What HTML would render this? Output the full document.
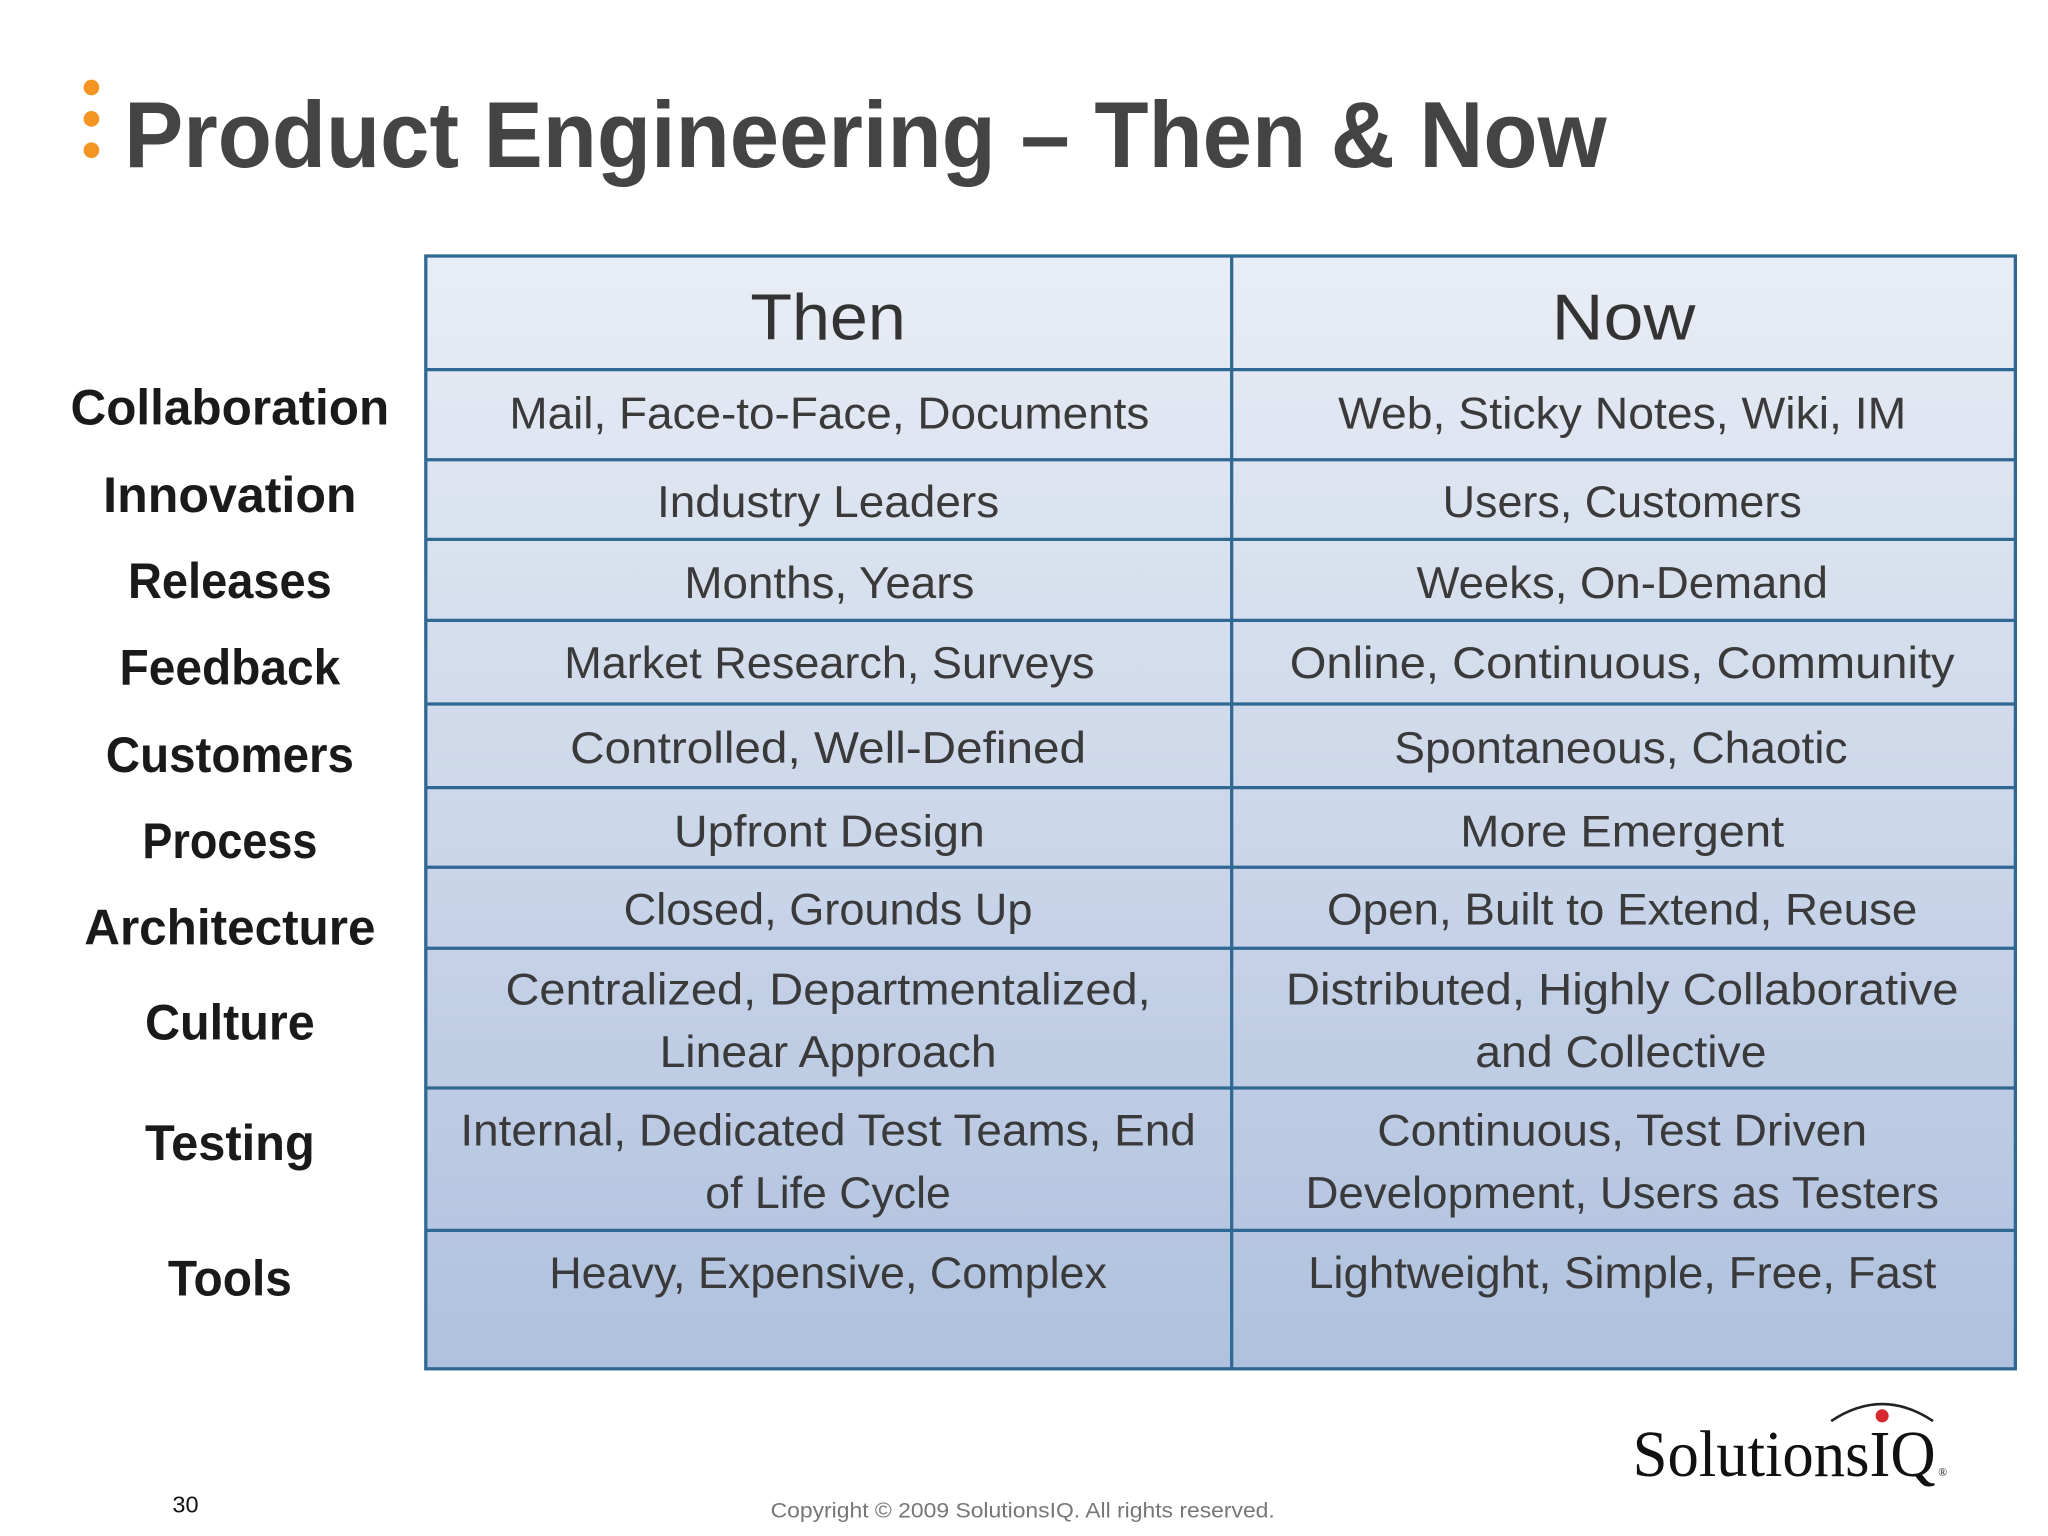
<!DOCTYPE html>
<html><head><meta charset="utf-8"><style>
html,body{margin:0;padding:0;background:#fff;}
svg{display:block;}
text{font-family:"Liberation Sans",sans-serif;}
text.serif{font-family:"Liberation Serif",serif;}
</style></head><body>
<svg width="2048" height="1536" viewBox="0 0 1568 1176" xmlns="http://www.w3.org/2000/svg">
<defs>
<linearGradient id="g" x1="0" y1="0" x2="0" y2="1">
<stop offset="0" stop-color="#e9edf5"/><stop offset="1" stop-color="#afc1de"/>
</linearGradient>
</defs>
<rect width="1568" height="1176" fill="#fff"/>
<g fill="#f39423">
<circle cx="70" cy="67" r="6"/><circle cx="70" cy="91" r="6"/><circle cx="70" cy="115" r="6"/>
</g>
<text x="95" y="128" font-size="72" font-weight="bold" fill="#444" textLength="1135" lengthAdjust="spacingAndGlyphs">Product Engineering – Then &amp; Now</text>

<g>
<rect x="326" y="196" width="1217" height="852" fill="url(#g)" stroke="#2f6893" stroke-width="2.5"/>
<g stroke="#2f6893" stroke-width="2.5">
<line x1="943" y1="196" x2="943" y2="1048"/>
<line x1="326" y1="283" x2="1543" y2="283"/>
<line x1="326" y1="352" x2="1543" y2="352"/>
<line x1="326" y1="413" x2="1543" y2="413"/>
<line x1="326" y1="475" x2="1543" y2="475"/>
<line x1="326" y1="539" x2="1543" y2="539"/>
<line x1="326" y1="603" x2="1543" y2="603"/>
<line x1="326" y1="664" x2="1543" y2="664"/>
<line x1="326" y1="726" x2="1543" y2="726"/>
<line x1="326" y1="833" x2="1543" y2="833"/>
<line x1="326" y1="942" x2="1543" y2="942"/>
</g>
<g font-size="50" fill="#333" text-anchor="middle">
<text x="634" y="260" textLength="119" lengthAdjust="spacingAndGlyphs">Then</text>
<text x="1243" y="260" textLength="110" lengthAdjust="spacingAndGlyphs">Now</text>
</g>
<g font-size="34" fill="#3a3a3a" text-anchor="middle">
<text x="635" y="328" textLength="490" lengthAdjust="spacingAndGlyphs">Mail, Face-to-Face, Documents</text>
<text x="1242" y="328" textLength="435" lengthAdjust="spacingAndGlyphs">Web, Sticky Notes, Wiki, IM</text>
<text x="634" y="396" textLength="262" lengthAdjust="spacingAndGlyphs">Industry Leaders</text>
<text x="1242" y="396" textLength="275" lengthAdjust="spacingAndGlyphs">Users, Customers</text>
<text x="635" y="458" textLength="222" lengthAdjust="spacingAndGlyphs">Months, Years</text>
<text x="1242" y="458" textLength="315" lengthAdjust="spacingAndGlyphs">Weeks, On-Demand</text>
<text x="635" y="519" textLength="406" lengthAdjust="spacingAndGlyphs">Market Research, Surveys</text>
<text x="1242" y="519" textLength="509" lengthAdjust="spacingAndGlyphs">Online, Continuous, Community</text>
<text x="634" y="584" textLength="395" lengthAdjust="spacingAndGlyphs">Controlled, Well-Defined</text>
<text x="1241" y="584" textLength="347" lengthAdjust="spacingAndGlyphs">Spontaneous, Chaotic</text>
<text x="635" y="648" textLength="238" lengthAdjust="spacingAndGlyphs">Upfront Design</text>
<text x="1242" y="648" textLength="248" lengthAdjust="spacingAndGlyphs">More Emergent</text>
<text x="634" y="708" textLength="313" lengthAdjust="spacingAndGlyphs">Closed, Grounds Up</text>
<text x="1242" y="708" textLength="452" lengthAdjust="spacingAndGlyphs">Open, Built to Extend, Reuse</text>
<text x="634" y="769" textLength="494" lengthAdjust="spacingAndGlyphs">Centralized, Departmentalized,</text>
<text x="634" y="817" textLength="258" lengthAdjust="spacingAndGlyphs">Linear Approach</text>
<text x="1242" y="769" textLength="515" lengthAdjust="spacingAndGlyphs">Distributed, Highly Collaborative</text>
<text x="1241" y="817" textLength="223" lengthAdjust="spacingAndGlyphs">and Collective</text>
<text x="634" y="877" textLength="563" lengthAdjust="spacingAndGlyphs">Internal, Dedicated Test Teams, End</text>
<text x="634" y="925" textLength="188" lengthAdjust="spacingAndGlyphs">of Life Cycle</text>
<text x="1242" y="877" textLength="375" lengthAdjust="spacingAndGlyphs">Continuous, Test Driven</text>
<text x="1242" y="925" textLength="485" lengthAdjust="spacingAndGlyphs">Development, Users as Testers</text>
<text x="634" y="986" textLength="427" lengthAdjust="spacingAndGlyphs">Heavy, Expensive, Complex</text>
<text x="1242" y="986" textLength="481" lengthAdjust="spacingAndGlyphs">Lightweight, Simple, Free, Fast</text>
</g>
</g>

<g font-size="38" font-weight="bold" fill="#1a1a1a" text-anchor="middle">
<text x="176" y="325" textLength="244" lengthAdjust="spacingAndGlyphs">Collaboration</text>
<text x="176" y="392" textLength="194" lengthAdjust="spacingAndGlyphs">Innovation</text>
<text x="176" y="458" textLength="156" lengthAdjust="spacingAndGlyphs">Releases</text>
<text x="176" y="524" textLength="169" lengthAdjust="spacingAndGlyphs">Feedback</text>
<text x="176" y="591" textLength="190" lengthAdjust="spacingAndGlyphs">Customers</text>
<text x="176" y="657" textLength="134" lengthAdjust="spacingAndGlyphs">Process</text>
<text x="176" y="723" textLength="223" lengthAdjust="spacingAndGlyphs">Architecture</text>
<text x="176" y="796" textLength="130" lengthAdjust="spacingAndGlyphs">Culture</text>
<text x="176" y="888" textLength="130" lengthAdjust="spacingAndGlyphs">Testing</text>
<text x="176" y="992" textLength="95" lengthAdjust="spacingAndGlyphs">Tools</text>
</g>

<g>
<path d="M1402 1088 Q1441 1062 1480 1088" fill="none" stroke="#222" stroke-width="2"/>
<circle cx="1441" cy="1084" r="5" fill="#d7282f"/>
<text class="serif" x="1250" y="1130" font-size="50" fill="#111" textLength="232" lengthAdjust="spacingAndGlyphs">SolutionsIQ</text>
<text class="serif" x="1484" y="1130" font-size="9" fill="#111">®</text>
</g>
<text x="132" y="1158" font-size="18" fill="#111">30</text>
<text x="783" y="1162" font-size="16" fill="#777" text-anchor="middle" textLength="386" lengthAdjust="spacingAndGlyphs">Copyright © 2009 SolutionsIQ. All rights reserved.</text>
</svg>
</body></html>
